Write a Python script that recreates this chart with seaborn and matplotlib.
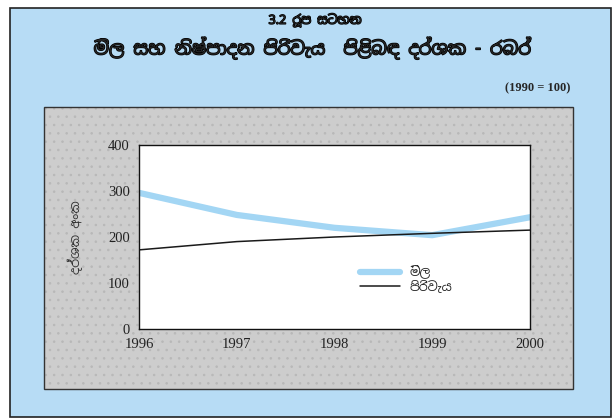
import matplotlib
matplotlib.use("Agg")
import matplotlib.pyplot as plt
import matplotlib.patches as mpatches
import matplotlib.patheffects as pe
import seaborn as sns
import pandas as pd

# Values (index, 1990 = 100)
years = [1996, 1997, 1998, 1999, 2000]
price = [296, 248, 220, 204, 243]   # මිල
cost = [172, 190, 200, 208, 215]    # පිරිවැය
yticks = [0, 100, 200, 300, 400]

sns.set_style("white")
plt.rcParams["font.family"] = ["Noto Sans Sinhala", "Liberation Serif", "DejaVu Sans"]
plt.rcParams["hatch.linewidth"] = 0.6

df = pd.DataFrame({"year": years, "මිල": price, "පිරිවැය": cost})
long = df.melt(id_vars="year", var_name="series", value_name="value")

fig = plt.figure(figsize=(6.13, 4.2), dpi=100)

# outer blue frame and inner grey (stippled) panel
fig.patches.append(mpatches.Rectangle((10 / 613, 3 / 420), 601 / 613, 409 / 420,
                                      transform=fig.transFigure, facecolor="#b7dcf5",
                                      edgecolor="#222222", lw=1.2, zorder=0))
panel = (44 / 613, 31 / 420)
pw, ph = 529 / 613, 282 / 420
fig.patches.append(mpatches.Rectangle(panel, pw, ph, transform=fig.transFigure,
                                      facecolor="#cdcdcd", edgecolor="#b8b8b8",
                                      lw=0, hatch="..", zorder=0))
fig.patches.append(mpatches.Rectangle(panel, pw, ph, transform=fig.transFigure,
                                      facecolor="none", edgecolor="#333333",
                                      lw=1.0, zorder=0))

ax = fig.add_axes([139 / 613, 91 / 420, 391 / 613, 184 / 420])
ax.set_zorder(5)
sns.lineplot(data=long, x="year", y="value", hue="series",
             palette={"මිල": "#a3d6f4", "පිරිවැය": "#1a1a1a"},
             ax=ax, legend=False)
ax.lines[0].set_linewidth(4.5)
ax.lines[0].set_solid_capstyle("round")
ax.lines[1].set_linewidth(1.1)

ax.set_xlim(years[0], years[-1])
ax.set_ylim(0, 400)
ax.set_xticks(years)
ax.set_yticks(yticks)
ax.set_xlabel("")
ax.set_ylabel("දර්ශක අංක", fontsize=9, color="#333333", labelpad=18)
ax.tick_params(axis="both", labelsize=10.5, colors="#222222", length=3, direction="out")
for lab in ax.get_xticklabels() + ax.get_yticklabels():
    lab.set_family("Liberation Serif")
for s in ax.spines.values():
    s.set_color("#111111")
    s.set_linewidth(1.0)

# legend
h1, = ax.plot([], [], color="#a3d6f4", lw=4.5)
h2, = ax.plot([], [], color="#1a1a1a", lw=1.1)
ax.legend([h1, h2], ["මිල", "පිරිවැය"], loc="lower right", bbox_to_anchor=(0.83, 0.13),
          frameon=False, fontsize=9, handlelength=3.2, labelspacing=0.15)

bold = [pe.withStroke(linewidth=1.0, foreground="black")]
fig.text(315 / 613, 1 - 20 / 420, "3.2 රූප සටහන", ha="center", va="center",
         fontsize=9, path_effects=bold)
fig.text(312 / 613, 1 - 48 / 420, "මිල සහ නිෂ්පාදන පිරිවැය  පිළිබඳ දර්ශක - රබර්",
         ha="center", va="center", fontsize=13, path_effects=bold)
fig.text(570 / 613, 1 - 88 / 420, "(1990 = 100)", ha="right", va="center",
         fontsize=9, fontweight="bold", family="Liberation Serif")

fig.savefig("out.png", dpi=100)
